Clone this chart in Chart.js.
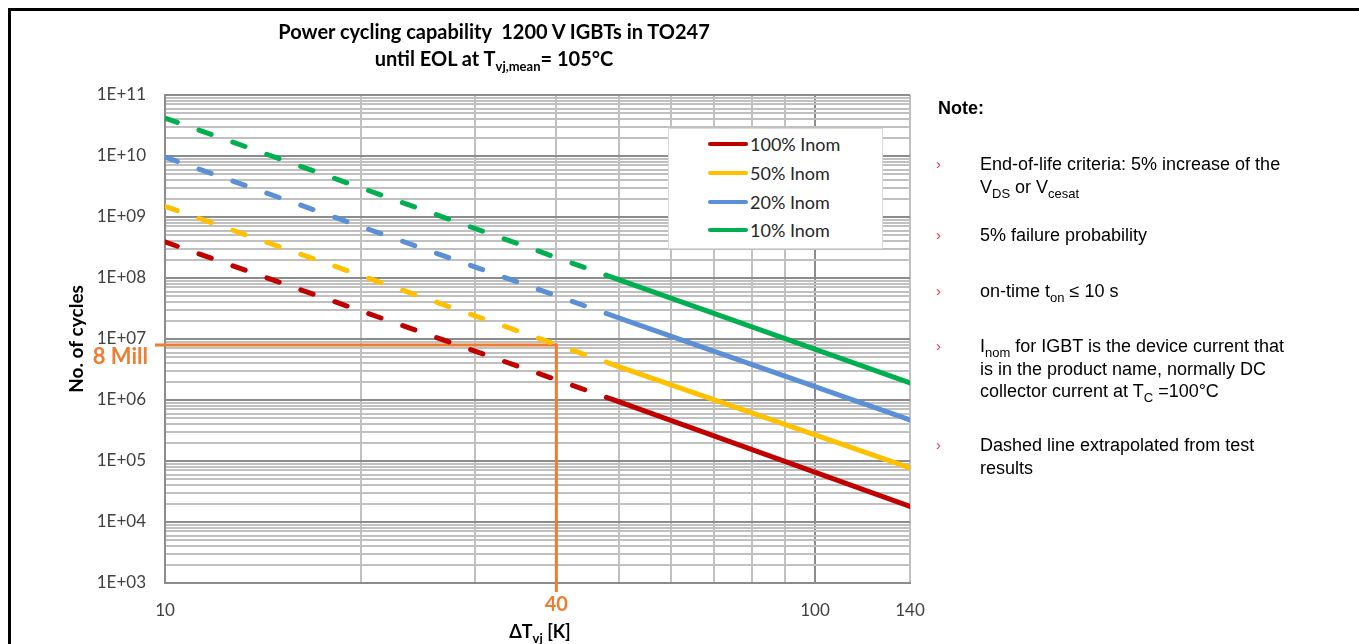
<!DOCTYPE html>
<html>
<head>
<meta charset="utf-8">
<title>Power cycling capability</title>
<script src="https://cdn.jsdelivr.net/npm/chart.js@4.4.1/dist/chart.umd.min.js"></script>
<style>
  html, body { margin: 0; padding: 0; background: #fff; }
  #wrap { position: relative; width: 1359px; height: 644px; overflow: hidden; }
  #frame { position: absolute; left: 8px; top: 8px; right: 0; bottom: 0; border-left: 3px solid #000; border-top: 3px solid #000; }
  #chart { position: absolute; left: 0; top: 0; }
  .title { position: absolute; left: 194px; width: 600px; text-align: center; font: bold 20px Lato, sans-serif; color: #000; line-height: 24px; white-space: nowrap; }
  .title sub, .xtitle sub { font-size: 13px; vertical-align: -5px; line-height: 0; }
  .xtitle { position: absolute; left: 440px; width: 200px; text-align: center; top: 620px; font: bold 18px Lato, sans-serif; color: #000; line-height: 22px; }
  #legend { position: absolute; left: 668px; top: 128px; width: 213px; height: 119px; border: 1px solid #d9d9d9; background: #fff; }
  .lg-item { position: absolute; left: 0; height: 22px; line-height: 22px; font: 18px Lato, sans-serif; color: #262626; }
  .lg-line { position: absolute; left: 39px; top: 9px; width: 40px; height: 4px; border-radius: 2px; }
  .lg-text { position: absolute; left: 81px; top: 0; white-space: nowrap; }
  .note-head { position: absolute; left: 938px; top: 97px; font: bold 18px "Liberation Sans", Arial, sans-serif; color: #000; line-height: 22px; }
  .note { position: absolute; left: 936px; width: 420px; font: 18px "Liberation Sans", Arial, sans-serif; color: #000; line-height: 22.5px; }
  .note .b { position: absolute; left: 0; top: 0; color: #e2304f; font-size: 15px; }
  .note .t { position: absolute; left: 44px; top: 0; white-space: nowrap; }
  .note sub { font-size: 13px; vertical-align: -5px; line-height: 0; }
</style>
</head>
<body>
<div id="wrap">
  <div id="frame"></div>
  <canvas id="chart" width="1359" height="644"></canvas>
  <div class="title" style="top:19px">Power cycling capability&nbsp; 1200 V IGBTs in TO247</div>
  <div class="title" style="top:46px">until EOL at T<sub>vj,mean</sub>= 105°C</div>
  <div class="xtitle">ΔT<sub>vj</sub> [K]</div>
  <div id="legend"></div>
  <div class="note-head">Note:</div>
  <div class="note" style="top:153px"><span class="b">›</span><span class="t">End-of-life criteria: 5% increase of the<br>V<sub>DS</sub> or V<sub>cesat</sub></span></div>
  <div class="note" style="top:224px"><span class="b">›</span><span class="t">5% failure probability</span></div>
  <div class="note" style="top:280px"><span class="b">›</span><span class="t">on-time t<sub>on</sub> ≤ 10 s</span></div>
  <div class="note" style="top:335px"><span class="b">›</span><span class="t">I<sub>nom</sub> for IGBT is the device current that<br>is in the product name, normally DC<br>collector current at T<sub>C</sub> =100°C</span></div>
  <div class="note" style="top:434px"><span class="b">›</span><span class="t">Dashed line extrapolated from test<br>results</span></div>
</div>
<script>
// ---------- data ----------
var xPoints = [10, 50, 140];          // ΔTvj [K]
var dashedUntil = 50;                 // extrapolated (dashed) below this ΔT
var seriesLabels = ['100% Inom', '50% Inom', '20% Inom', '10% Inom'];
var seriesColors = ['#c00000', '#ffc000', '#5b8fd6', '#00b050'];
var cycles100 = [3.9e8, 9.3e5, 1.8e4];
var cycles50 = [1.5e9, 3.5e6, 7.7e4];
var cycles20 = [9.6e9, 2.2e7, 4.7e5];
var cycles10 = [4.2e10, 9.3e7, 1.9e6];
var seriesValues = [cycles100, cycles50, cycles20, cycles10];

var yDecades = [1e3, 1e4, 1e5, 1e6, 1e7, 1e8, 1e9, 1e10, 1e11];
var yDecadeLabels = ['1E+03', '1E+04', '1E+05', '1E+06', '1E+07', '1E+08', '1E+09', '1E+10', '1E+11'];
var yMinorSteps = [2, 3, 4, 5, 6, 7, 8, 9];
var xGridValues = [10, 20, 30, 40, 50, 60, 70, 80, 90, 100, 140];
var xLabelValues = [10, 100, 140];
var xLabelTexts = ['10', '100', '140'];

var markerX = 40, markerXLabel = '40';
var markerY = 8e6, markerYLabel = '8 Mill';
var markerColor = '#ed7d31';

// ---------- legend (html) ----------
var legendEl = document.getElementById('legend');
var rowTops = [4, 33, 62, 90];
seriesLabels.forEach(function (lab, i) {
  var item = document.createElement('div');
  item.className = 'lg-item';
  item.style.top = rowTops[i] + 'px';
  item.style.width = '213px';
  item.innerHTML = '<span class="lg-line" style="background:' + seriesColors[i] + '"></span><span class="lg-text">' + lab + '</span>';
  legendEl.appendChild(item);
});

// ---------- chart ----------
var isDecade = function (v) { return Math.abs(Math.log10(v) - Math.round(Math.log10(v))) < 1e-9; };
var gridColor = function (ctx) {
  if (!ctx.tick) return '#c0c0c0';
  return isDecade(ctx.tick.value) ? '#8c8c8c' : '#c0c0c0';
};

var markerPlugin = {
  id: 'marker',
  beforeDatasetsDraw: function (chart) {
    var ctx = chart.ctx, area = chart.chartArea;
    var px = chart.scales.x.getPixelForValue(markerX);
    var py = chart.scales.y.getPixelForValue(markerY);
    ctx.save();
    ctx.strokeStyle = markerColor;
    ctx.lineWidth = 3;
    ctx.beginPath();
    ctx.moveTo(area.left - 10, py);
    ctx.lineTo(px, py);
    ctx.lineTo(px, area.bottom + 9);
    ctx.stroke();
    ctx.restore();
  },
  afterDraw: function (chart) {
    var ctx = chart.ctx, area = chart.chartArea;
    var px = chart.scales.x.getPixelForValue(markerX);
    var py = chart.scales.y.getPixelForValue(markerY);
    ctx.save();
    ctx.fillStyle = markerColor;
    ctx.font = 'bold 22px Lato, sans-serif';
    ctx.textBaseline = 'middle';
    ctx.textAlign = 'right';
    ctx.fillText(markerYLabel, area.left - 17, py + 12);
    ctx.font = 'bold 20px Lato, sans-serif';
    ctx.textAlign = 'center';
    ctx.fillText(markerXLabel, px, area.bottom + 22);
    ctx.restore();
  }
};

new Chart(document.getElementById('chart'), {
  type: 'line',
  data: {
    datasets: seriesLabels.map(function (lab, i) {
      return {
        label: lab,
        data: xPoints.map(function (x, j) { return { x: x, y: seriesValues[i][j] }; }),
        borderColor: seriesColors[i],
        backgroundColor: seriesColors[i],
        borderWidth: 5,
        borderCapStyle: 'round',
        pointRadius: 0,
        tension: 0,
        segment: {
          borderDash: function (ctx) { return ctx.p1.parsed.x <= dashedUntil ? [13, 23] : undefined; }
        }
      };
    })
  },
  options: {
    responsive: false,
    animation: false,
    layout: { padding: { top: 95, right: 449, bottom: 0, left: 0 } },
    plugins: { legend: { display: false }, tooltip: { enabled: false }, title: { display: false } },
    scales: {
      x: {
        type: 'logarithmic',
        min: 10, max: 140,
        afterFit: function (s) { s.height = 61; },
        afterBuildTicks: function (s) { s.ticks = xGridValues.map(function (v) { return { value: v }; }); },
        grid: { color: gridColor, lineWidth: 2, drawTicks: false },
        border: { color: '#8c8c8c', width: 2 },
        ticks: {
          autoSkip: false, maxRotation: 0, padding: 17,
          color: '#404040', font: { family: 'Lato', size: 17 },
          callback: function (v) { var k = xLabelValues.indexOf(v); return k >= 0 ? xLabelTexts[k] : ''; }
        }
      },
      y: {
        type: 'logarithmic',
        min: 1e3, max: 1e11,
        afterFit: function (s) { s.width = 165; },
        afterBuildTicks: function (s) {
          var t = [];
          yDecades.forEach(function (d, i) {
            t.push({ value: d });
            if (i < yDecades.length - 1) yMinorSteps.forEach(function (m) { t.push({ value: d * m }); });
          });
          s.ticks = t;
        },
        grid: { color: gridColor, lineWidth: 2, drawTicks: false },
        border: { color: '#8c8c8c', width: 2 },
        title: { display: true, text: 'No. of cycles', color: '#000', font: { family: 'Lato', size: 19, weight: 'bold' }, padding: { top: 65, bottom: 0 } },
        ticks: {
          autoSkip: false, padding: 19,
          color: '#404040', font: { family: 'Lato', size: 17 },
          callback: function (v) { var k = yDecades.indexOf(v); return k >= 0 ? yDecadeLabels[k] : ''; }
        }
      }
    }
  },
  plugins: [markerPlugin]
});
</script>
</body>
</html>
